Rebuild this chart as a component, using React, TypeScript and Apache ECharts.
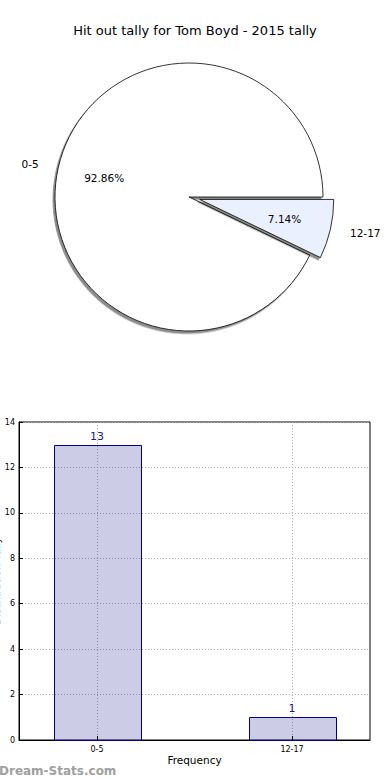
import React, { useEffect, useRef } from "react";
import * as echarts from "echarts";

const titleText = "Hit out tally for Tom Boyd - 2015 tally";
const categories = ["0-5", "12-17"];
const tallies = [13, 1];
const sliceColors = ["#ffffff", "#eaf0fd"];
const yTicks = { min: 0, max: 14, interval: 2 };
const xAxisName = "Frequency";
const yAxisName = "Distribution Tally";
const watermark = "Dream-Stats.com";

const FONT = "DejaVu Sans";
const BAR_HALF = 0.223;

export default function App() {
  const ref = useRef<HTMLDivElement>(null);
  useEffect(() => {
    if (!ref.current) return;
    const chart = echarts.init(ref.current, null, { renderer: "svg" });
    const pieData = categories.map((c, i) => ({
      name: c,
      value: tallies[i],
      selected: i === 1,
      itemStyle: { color: sliceColors[i] },
    }));
    const positions = categories.map((_, i) => i);
    chart.setOption({
      animation: false,
      textStyle: { fontFamily: FONT },
      title: {
        text: titleText,
        left: "center",
        top: 19,
        textStyle: { fontFamily: FONT, fontSize: 13, fontWeight: "normal", color: "#000" },
      },
      grid: {
        left: 19,
        right: 20,
        top: 422,
        bottom: 40,
        containLabel: false,
        outerBoundsMode: "none",
        show: true,
        borderColor: "#000",
        borderWidth: 1,
        backgroundColor: "transparent",
      },
      xAxis: {
        type: "value",
        min: -0.4,
        max: 1.4,
        name: xAxisName,
        nameLocation: "middle",
        nameGap: 14,
        nameMoveOverlap: false,
        nameTextStyle: { fontFamily: FONT, fontSize: 10.5, color: "#000" },
        axisLine: { show: true, onZero: false, lineStyle: { color: "#000" } },
        axisTick: { show: true, inside: true, length: 4, customValues: positions, lineStyle: { color: "#000" } },
        axisLabel: {
          customValues: positions,
          formatter: (v: number) => categories[Math.round(v)] ?? "",
          fontSize: 8,
          color: "#000",
          margin: 5,
          fontFamily: FONT,
        },
        splitLine: { show: true, lineStyle: { color: "#b0b0b0", type: [1, 2] } },
      },
      yAxis: {
        type: "value",
        min: yTicks.min,
        max: yTicks.max,
        interval: yTicks.interval,
        name: yAxisName,
        nameLocation: "middle",
        nameGap: 18,
        nameMoveOverlap: false,
        nameRotate: 90,
        nameTextStyle: { fontFamily: FONT, fontSize: 10.5, color: "#000" },
        axisLine: { show: true, onZero: false, lineStyle: { color: "#000" } },
        axisTick: { show: true, inside: true, length: 4, lineStyle: { color: "#000" } },
        axisLabel: { fontSize: 8, color: "#000", margin: 4, fontFamily: FONT },
        splitLine: { show: true, lineStyle: { color: "#b0b0b0", type: [1, 2] } },
      },
      series: [
        {
          type: "pie",
          center: [189, 197],
          radius: 134,
          startAngle: 0,
          clockwise: false,
          selectedMode: "single",
          selectedOffset: 11,
          avoidLabelOverlap: false,
          silent: true,
          data: pieData,
          itemStyle: {
            borderColor: "#000",
            borderWidth: 0.8,
            shadowBlur: 1,
            shadowOffsetX: -2,
            shadowOffsetY: 2.5,
            shadowColor: "rgba(0,0,0,0.45)",
          },
          label: {
            show: true,
            position: "outside",
            formatter: "{b}",
            fontSize: 10.5,
            color: "#000",
            fontFamily: FONT,
            distanceToLabelLine: 5,
          },
          labelLine: { show: false, length: 15, length2: 0 },
          emphasis: { disabled: true },
        },
        {
          type: "pie",
          center: [189, 197],
          radius: [64, 104],
          startAngle: 0,
          clockwise: false,
          selectedMode: "single",
          selectedOffset: 11,
          avoidLabelOverlap: false,
          silent: true,
          data: pieData.map((d) => ({ ...d, itemStyle: { color: "transparent" } })),
          itemStyle: { borderWidth: 0, color: "transparent" },
          label: {
            show: true,
            position: "inner",
            formatter: "{d}%",
            fontSize: 10.5,
            color: "#000",
            fontFamily: FONT,
          },
          labelLine: { show: false },
          emphasis: { disabled: true },
        },
        {
          type: "custom",
          data: tallies.map((v, i) => [positions[i], v]),
          encode: { x: 0, y: 1 },
          silent: true,
          renderItem: (params: any, api: any) => {
            const x = api.value(0);
            const v = api.value(1);
            const p0 = api.coord([x - BAR_HALF, v]);
            const p1 = api.coord([x + BAR_HALF, 0]);
            return {
              type: "group",
              children: [
                {
                  type: "rect",
                  shape: {
                    x: Math.round(p0[0]) + 0.5,
                    y: Math.round(p0[1]) + 0.5,
                    width: Math.round(p1[0] - p0[0]),
                    height: Math.round(p1[1] - p0[1]),
                  },
                  style: { fill: "rgba(0,0,128,0.2)", stroke: "#00008b", lineWidth: 1 },
                },
                {
                  type: "text",
                  x: (p0[0] + p1[0]) / 2,
                  y: p0[1] - 3,
                  style: {
                    text: String(v),
                    align: "center",
                    verticalAlign: "bottom",
                    fill: "#1a1a8c",
                    fontSize: 11,
                    fontFamily: FONT,
                  },
                },
              ],
            };
          },
        },
      ],
      graphic: [
        {
          type: "text",
          left: -1,
          top: 765,
          style: {
            text: watermark,
            fill: "#a0a0a0",
            font: "bold 12px 'DejaVu Sans'",
          },
        },
      ],
    });
    return () => chart.dispose();
  }, []);
  return (
    <div
      ref={ref}
      style={{ position: "absolute", left: 0, top: 0, width: 390, height: 780 }}
    />
  );
}
